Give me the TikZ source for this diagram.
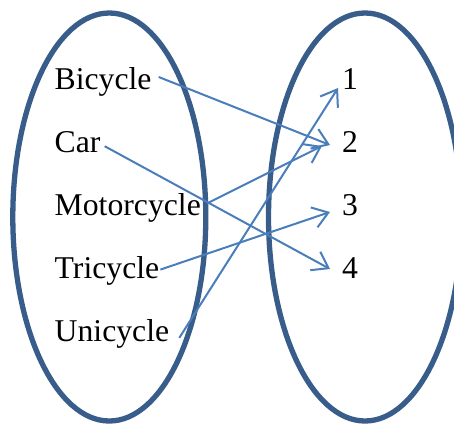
\documentclass[tikz,border=0pt]{standalone}
\usepackage{fontspec}
\setmainfont{Liberation Serif}
\usepackage{xcolor}
\usetikzlibrary{positioning, calc, arrows.meta, shapes.geometric}
\definecolor{ovalcolor}{RGB}{56,93,138}
\definecolor{linkcolor}{RGB}{74,126,187}
\tikzset{
  setoval/.style={
    draw=ovalcolor, line width=5.3pt, ellipse, inner sep=0pt,
    minimum width=193pt, minimum height=408pt
  },
  item/.style={anchor=base west, inner sep=0pt, text=black,
               font=\fontsize{31.7pt}{36pt}\selectfont},
  link/.style={line width=2pt, linkcolor, line join=miter,
               -{Straight Barb[length=15pt, width=21pt]}},
}

\begin{document}
\begin{tikzpicture}[x=1pt, y=-1pt]
\useasboundingbox (0,0) rectangle (454,424);

%% ── the two sets ─────────────────────────────────────────────────
\node[setoval] (vehicles) at (109.3,217) {};
\node[setoval] (wheels)   at (365,217)   {};

%% ── left set: vehicles ───────────────────────────────────────────
\foreach \k/\name/\word in {0/bike/Bicycle, 1/car/Car, 2/moto/Motorcycle,
                            3/trike/Tricycle, 4/uni/Unicycle}
  \node[item] (\name) at (54.5, 89+63.2*\k) {\word};

%% ── right set: wheel counts ──────────────────────────────────────
\foreach \n in {1,...,4}
  \node[item] (n\n) at (342, 26+63*\n) {\n};

%% ── the mapping ──────────────────────────────────────────────────
\draw[link] ([shift={(7,-12)}]bike.base east)  -- ([shift={(-12,-7)}]n2.base west);
\draw[link] ([shift={(4,-6)}]car.base east)    -- ([shift={(-12,-9)}]n4.base west);
\draw[link] ([shift={(6,-12)}]moto.base east)  -- ([shift={(-20,-6)}]n2.base west);
\draw[link] ([shift={(1,-9)}]trike.base east)  -- ([shift={(-12,-3)}]n3.base west);
\draw[link] ([shift={(10,-4)}]uni.base east)   -- ([shift={(-4,-1)}]n1.base west);

\end{tikzpicture}
\end{document}
